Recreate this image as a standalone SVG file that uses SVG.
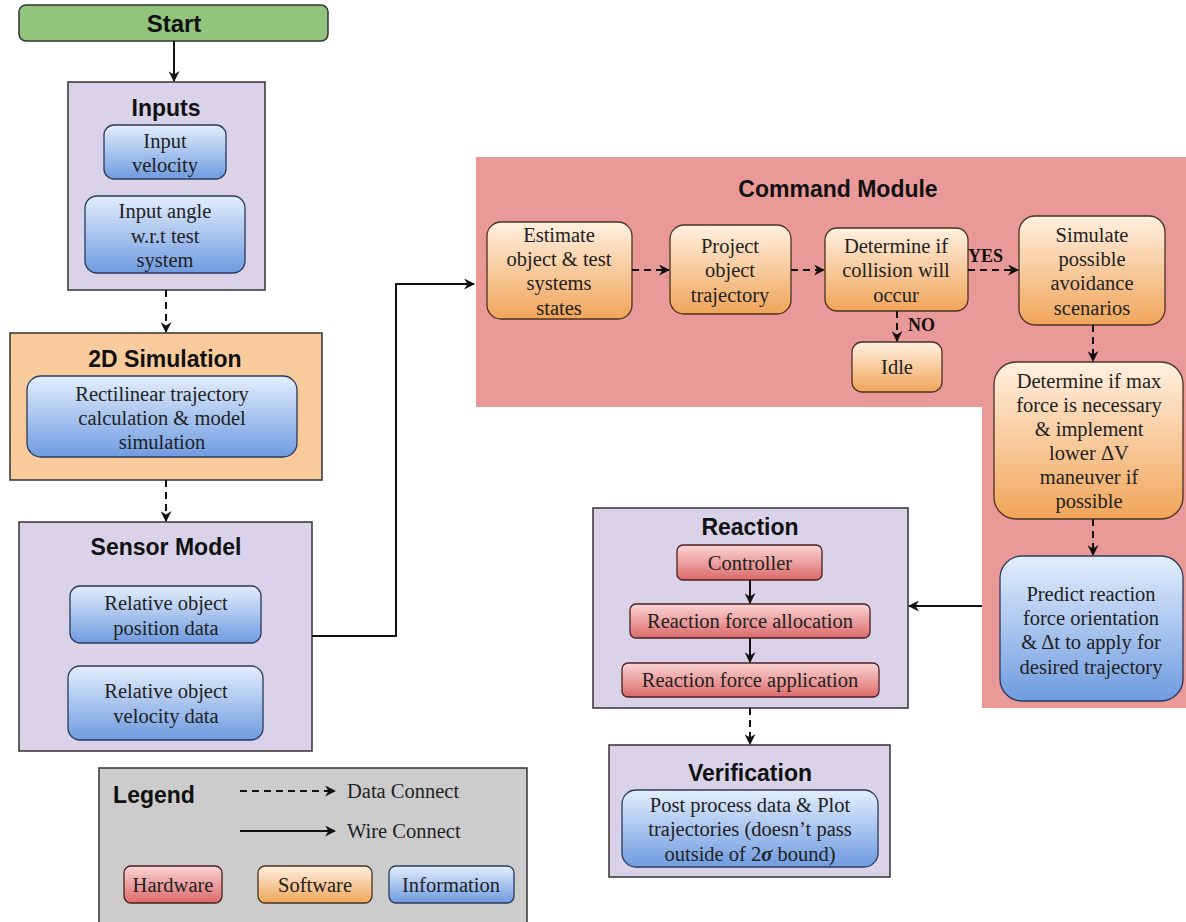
<svg xmlns="http://www.w3.org/2000/svg" width="1186" height="922" viewBox="0 0 1186 922">
<defs>
<linearGradient id="gBlue" x1="0" y1="0" x2="0" y2="1"><stop offset="0" stop-color="#e3eefc"/><stop offset="1" stop-color="#6f9be0"/></linearGradient>
<linearGradient id="gOrange" x1="0" y1="0" x2="0" y2="1"><stop offset="0" stop-color="#fff0e0"/><stop offset="1" stop-color="#f0a55a"/></linearGradient>
<linearGradient id="gRed" x1="0" y1="0" x2="0" y2="1"><stop offset="0" stop-color="#fbd5d5"/><stop offset="1" stop-color="#dc6a6a"/></linearGradient>
<marker id="ah" viewBox="0 0 10 10" refX="9" refY="5" markerWidth="11" markerHeight="11" markerUnits="userSpaceOnUse" orient="auto"><path d="M0,0 L10,5 L0,10 L3,5 Z" fill="#111"/></marker>
</defs>
<style>
.title{font-family:"Liberation Sans",Arial,sans-serif;font-weight:bold;font-size:23px;fill:#111;text-anchor:middle}
.t{font-family:"Liberation Serif","Times New Roman",serif;font-size:20.5px;fill:#222;text-anchor:middle}
.ts{font-family:"Liberation Serif","Times New Roman",serif;font-size:20.5px;fill:#222;text-anchor:start}
.lb{font-family:"Liberation Serif","Times New Roman",serif;font-size:18px;font-weight:bold;fill:#111}
.grp{stroke:#333;stroke-width:1.5}
.lav{fill:#d9d2e9}
.blue{fill:url(#gBlue);stroke:#2a3a5a;stroke-width:1.3}
.org{fill:url(#gOrange);stroke:#4a3320;stroke-width:1.3}
.red{fill:url(#gRed);stroke:#4a2020;stroke-width:1.3}
.dash{fill:none;stroke:#111;stroke-width:2;stroke-dasharray:7,5;marker-end:url(#ah)}
.solid{fill:none;stroke:#111;stroke-width:2;marker-end:url(#ah)}
</style>

<g id="command-bg">
<path d="M476,157 H1186 V708 H982 V407 H476 Z" fill="#ea9999"/>
</g>

<g id="start">
<rect x="19" y="5" width="309" height="36" rx="7" fill="#93c47d" stroke="#333" stroke-width="1.5"/>
<text class="title" x="174" y="32" style="font-size:24px">Start</text>
</g>

<g id="inputs">
<rect x="68" y="82" width="197" height="208" class="lav grp"/>
<text class="title" x="166" y="116">Inputs</text>
<rect x="104" y="125" width="122" height="54" rx="10" class="blue"/>
<text class="t" x="165" y="148">Input</text>
<text class="t" x="165" y="172">velocity</text>
<rect x="85" y="196" width="160" height="77" rx="12" class="blue"/>
<text class="t" x="165" y="218">Input angle</text>
<text class="t" x="165" y="243">w.r.t test</text>
<text class="t" x="165" y="267">system</text>
</g>

<g id="sim2d">
<rect x="10" y="333" width="312" height="147" fill="#f9cb9c" class="grp"/>
<text class="title" x="165" y="367">2D Simulation</text>
<rect x="27" y="376" width="270" height="81" rx="14" class="blue"/>
<text class="t" x="162" y="401">Rectilinear trajectory</text>
<text class="t" x="162" y="425">calculation &amp; model</text>
<text class="t" x="162" y="449">simulation</text>
</g>

<g id="sensor">
<rect x="19" y="522" width="293" height="229" class="lav grp"/>
<text class="title" x="166" y="555">Sensor Model</text>
<rect x="70" y="586" width="191" height="57" rx="10" class="blue"/>
<text class="t" x="166" y="610">Relative object</text>
<text class="t" x="166" y="635">position data</text>
<rect x="68" y="666" width="195" height="74" rx="12" class="blue"/>
<text class="t" x="166" y="698">Relative object</text>
<text class="t" x="166" y="723">velocity data</text>
</g>

<g id="command-module">
<text class="title" x="838" y="197">Command Module</text>
<g id="estimate">
<rect x="487" y="222" width="145" height="97" rx="14" class="org"/>
<text class="t" x="559" y="242">Estimate</text>
<text class="t" x="559" y="266">object &amp; test</text>
<text class="t" x="559" y="290">systems</text>
<text class="t" x="559" y="315">states</text>
</g>
<g id="project">
<rect x="670" y="225" width="121" height="89" rx="14" class="org"/>
<text class="t" x="730" y="253">Project</text>
<text class="t" x="730" y="277">object</text>
<text class="t" x="730" y="302">trajectory</text>
</g>
<g id="determine">
<rect x="825" y="228" width="143" height="83" rx="12" class="org"/>
<text class="t" x="896" y="253">Determine if</text>
<text class="t" x="896" y="277">collision will</text>
<text class="t" x="896" y="302">occur</text>
</g>
<g id="simulate">
<rect x="1019" y="216" width="146" height="109" rx="16" class="org"/>
<text class="t" x="1092" y="242">Simulate</text>
<text class="t" x="1092" y="266">possible</text>
<text class="t" x="1092" y="290">avoidance</text>
<text class="t" x="1092" y="315">scenarios</text>
</g>
<g id="idle">
<rect x="852" y="342" width="90" height="50" rx="10" class="org"/>
<text class="t" x="897" y="374">Idle</text>
</g>
<g id="maxforce">
<rect x="994" y="362" width="189" height="157" rx="22" class="org"/>
<text class="t" x="1089" y="388">Determine if max</text>
<text class="t" x="1089" y="412">force is necessary</text>
<text class="t" x="1089" y="436">&amp; implement</text>
<text class="t" x="1089" y="460">lower ΔV</text>
<text class="t" x="1089" y="484">maneuver if</text>
<text class="t" x="1089" y="508">possible</text>
</g>
<g id="predict">
<rect x="1000" y="556" width="183" height="145" rx="22" class="blue"/>
<text class="t" x="1091" y="601">Predict reaction</text>
<text class="t" x="1091" y="625">force orientation</text>
<text class="t" x="1091" y="649">&amp; Δt to apply for</text>
<text class="t" x="1091" y="674">desired trajectory</text>
</g>
</g>

<g id="reaction">
<rect x="593" y="508" width="315" height="200" class="lav grp"/>
<text class="title" x="750" y="535">Reaction</text>
<rect x="677" y="545" width="145" height="35" rx="6" class="red"/>
<text class="t" x="750" y="570">Controller</text>
<rect x="630" y="604" width="240" height="34" rx="6" class="red"/>
<text class="t" x="750" y="628">Reaction force allocation</text>
<rect x="622" y="663" width="257" height="34" rx="6" class="red"/>
<text class="t" x="750" y="687">Reaction force application</text>
</g>

<g id="verification">
<rect x="609" y="745" width="281" height="132" class="lav grp"/>
<text class="title" x="750" y="781">Verification</text>
<rect x="622" y="790" width="256" height="77" rx="14" class="blue"/>
<text class="t" x="750" y="812">Post process data &amp; Plot</text>
<text class="t" x="750" y="836">trajectories (doesn’t pass</text>
<text class="t" x="750" y="861">outside of 2<tspan font-style="italic" font-weight="bold">σ</tspan> bound)</text>
</g>

<g id="legend">
<rect x="99" y="768" width="428" height="160" fill="#cccccc" class="grp"/>
<text class="title" x="154" y="803">Legend</text>
<line x1="240" y1="791" x2="335" y2="791" class="dash"/>
<text class="ts" x="347" y="798">Data Connect</text>
<line x1="240" y1="831" x2="335" y2="831" class="solid"/>
<text class="ts" x="347" y="838">Wire Connect</text>
<rect x="124" y="866" width="98" height="37" rx="7" class="red"/>
<text class="t" x="173" y="892">Hardware</text>
<rect x="258" y="866" width="114" height="37" rx="7" class="org"/>
<text class="t" x="315" y="892">Software</text>
<rect x="389" y="866" width="125" height="37" rx="7" class="blue"/>
<text class="t" x="451" y="892">Information</text>
</g>

<g id="connectors">
<line x1="174" y1="41" x2="174" y2="81" class="solid"/>
<line x1="166" y1="290" x2="166" y2="332" class="dash"/>
<line x1="166" y1="480" x2="166" y2="521" class="dash"/>
<polyline points="312,636 396,636 396,284 474,284" class="solid"/>
<line x1="632" y1="270" x2="669" y2="270" class="dash"/>
<line x1="791" y1="270" x2="824" y2="270" class="dash"/>
<line x1="968" y1="270" x2="1018" y2="270" class="dash"/>
<text class="lb" x="968" y="262">YES</text>
<line x1="897" y1="311" x2="897" y2="341" class="dash"/>
<text class="lb" x="908" y="331">NO</text>
<line x1="1093" y1="325" x2="1093" y2="361" class="dash"/>
<line x1="1093" y1="519" x2="1093" y2="555" class="dash"/>
<line x1="982" y1="606" x2="909" y2="606" class="solid"/>
<line x1="750" y1="580" x2="750" y2="603" class="solid"/>
<line x1="750" y1="638" x2="750" y2="662" class="solid"/>
<line x1="750" y1="708" x2="750" y2="744" class="dash"/>
</g>
</svg>
